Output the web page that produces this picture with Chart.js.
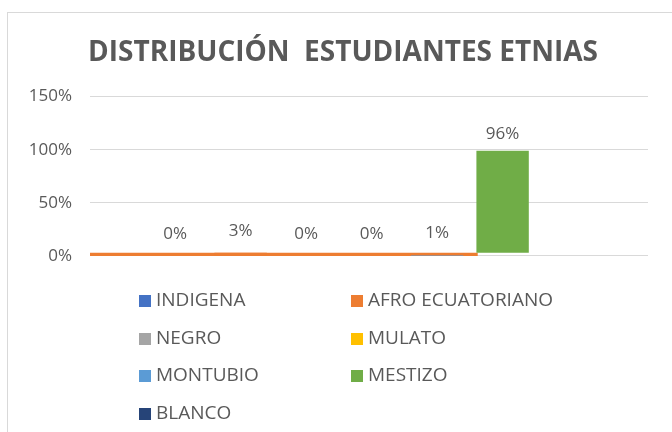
<!DOCTYPE html>
<html>
<head>
<meta charset="utf-8">
<script src="https://cdn.jsdelivr.net/npm/chart.js@4"></script>
<style>
  body { margin: 0; background: #fff; }
  #wrap { position: relative; width: 672px; height: 432px; overflow: hidden; }
  #frame { position: absolute; left: 7px; top: 12px; width: 700px; height: 460px; border: 1px solid #d9d9d9; }
  canvas { position: absolute; left: 0; top: 0; }
  .leg { position: absolute; font: 19px 'Open Sans', sans-serif; color: #595959; white-space: nowrap; line-height: 20px; }
  .leg span { display: inline-block; width: 12px; height: 12px; margin-right: 5px; vertical-align: -1px; }
</style>
</head>
<body>
<div id="wrap">
  <div id="frame"></div>
  <canvas id="chart" width="672" height="432"></canvas>
  <div id="legend"></div>
</div>
<script>
// series names, values and colours
const etnias = ['INDIGENA', 'AFRO ECUATORIANO', 'NEGRO', 'MULATO', 'MONTUBIO', 'MESTIZO', 'BLANCO'];
const porcentajes = [0, 0.03, 0, 0, 0.01, 0.96, null];
const colores = ['#4472C4', '#ED7D31', '#A5A5A5', '#FFC000', '#5B9BD5', '#70AD47', '#264478'];
const ticksY = [0, 0.5, 1, 1.5];
// the wide orange strip along the zero line
const franjaX = [-1.3, 4.62];
const franjaY = [0.015, 0.015];

const textColor = '#595959';

const datasets = etnias.map((name, i) => {
  let v = porcentajes[i];
  // mestizo bar sits on top of the orange strip
  if (name === 'MESTIZO') v = [porcentajes[1], porcentajes[1] + porcentajes[5]];
  return {
    type: 'bar',
    label: name,
    data: v === null ? [] : [{ x: i, y: v }],
    pct: porcentajes[i],
    backgroundColor: colores[i],
    borderColor: colores[i],
    borderWidth: 0,
    grouped: false,
    barPercentage: 0.8,
    categoryPercentage: 1,
  };
});

datasets.push({
  type: 'line',
  label: 'franja',
  data: franjaX.map((x, i) => ({ x: x, y: franjaY[i] })),
  borderColor: colores[1],
  borderWidth: 3.5,
  pointRadius: 0,
  borderCapStyle: 'butt',
});

const valueLabels = {
  id: 'valueLabels',
  afterDatasetsDraw(chart) {
    const ctx = chart.ctx;
    ctx.save();
    ctx.font = '17px "Open Sans", sans-serif';
    ctx.fillStyle = textColor;
    ctx.textAlign = 'center';
    ctx.textBaseline = 'middle';
    chart.data.datasets.forEach((ds, di) => {
      if (ds.type !== 'bar' || ds.pct === null) return;
      chart.getDatasetMeta(di).data.forEach(bar => {
        const off = ds.pct > 0.5 ? 17 : 22;
        ctx.fillText(Math.round(ds.pct * 100) + '%', bar.x, Math.min(bar.y, bar.base) - off);
      });
    });
    ctx.restore();
  },
};

// the title in the original sits a bit right of the canvas centre
const shiftTitle = {
  id: 'shiftTitle',
  afterLayout(chart) {
    if (chart.titleBlock) chart.titleBlock.left += 38;
  },
};

new Chart(document.getElementById('chart'), {
  type: 'bar',
  data: { datasets: datasets },
  plugins: [valueLabels, shiftTitle],
  options: {
    responsive: false,
    animation: false,
    layout: { padding: { top: 36, right: 24, bottom: 176, left: 0 } },
    scales: {
      x: {
        type: 'linear',
        offset: false,
        min: -1.3,
        max: 7.22,
        display: false,
      },
      y: {
        min: 0,
        max: 1.5,
        afterFit: scale => { scale.width = 90; },
        afterBuildTicks: scale => { scale.ticks = ticksY.map(v => ({ value: v })); },
        grid: { color: '#d9d9d9', drawTicks: false },
        border: { display: false },
        ticks: {
          padding: 18,
          color: textColor,
          font: { family: 'Open Sans', size: 17 },
          callback: v => Math.round(v * 100) + '%',
        },
      },
    },
    plugins: {
      legend: { display: false },
      tooltip: { enabled: false },
      title: {
        display: true,
        text: 'DISTRIBUCIÓN  ESTUDIANTES ETNIAS',
        color: textColor,
        font: { family: 'Open Sans', size: 28, weight: 'bold' },
        padding: { top: 0, bottom: 27 },
      },
    },
  },
});

// two-column legend like the spreadsheet one
const legend = document.getElementById('legend');
etnias.forEach((name, i) => {
  const item = document.createElement('div');
  item.className = 'leg';
  item.style.left = (i % 2 === 0 ? 139 : 351) + 'px';
  item.style.top = (289 + Math.floor(i / 2) * 37.7) + 'px';
  item.innerHTML = '<span style="background:' + colores[i] + '"></span>' + name;
  legend.appendChild(item);
});
</script>
</body>
</html>
